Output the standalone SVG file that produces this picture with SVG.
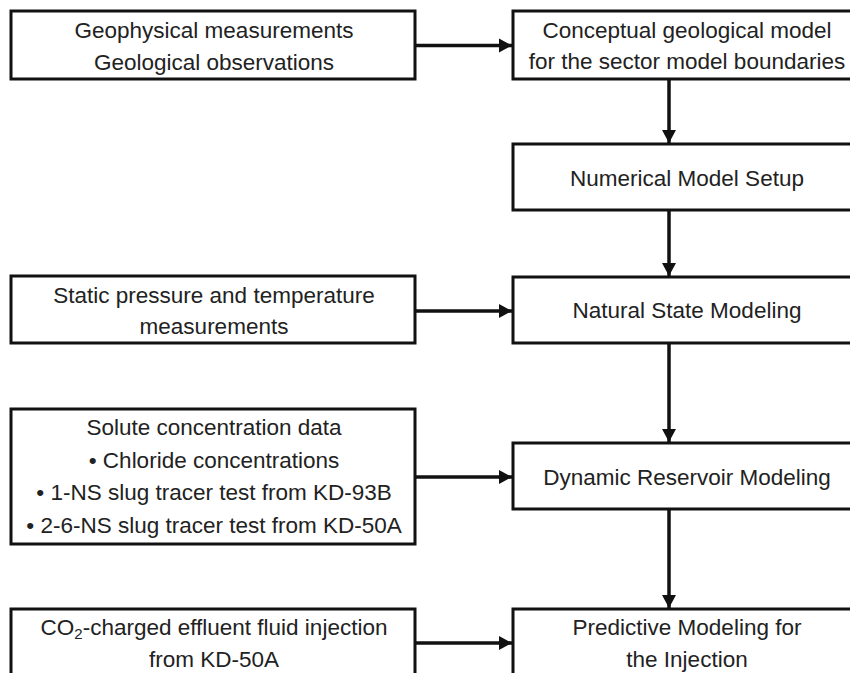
<svg xmlns="http://www.w3.org/2000/svg" width="850" height="673" viewBox="0 0 850 673">
<defs>
<style>
.box{fill:#fff;stroke:#111;stroke-width:3}
.t{font-family:"Liberation Sans",Arial,sans-serif;font-size:22.5px;fill:#222;text-anchor:middle}
.c{stroke:#111;stroke-width:3.5;fill:none}
</style>
<marker id="ah" markerUnits="userSpaceOnUse" markerWidth="14" markerHeight="15" viewBox="0 0 14 15" refX="13" refY="7.5" orient="auto">
<path d="M0,0.5 L13,7.5 L0,14.5 Z" fill="#111"/>
</marker>
</defs>
<rect width="850" height="673" fill="#fff"/>
<g id="geophys">
<rect class="box" x="11" y="11" width="404" height="68"/>
<text class="t" x="214" y="38">Geophysical measurements</text>
<text class="t" x="214" y="69.5">Geological observations</text>
</g>
<g id="conceptual">
<rect class="box" x="513" y="11" width="349" height="68"/>
<text class="t" x="687" y="38">Conceptual geological model</text>
<text class="t" x="687" y="68.5">for the sector model boundaries</text>
</g>
<g id="numerical">
<rect class="box" x="513" y="144" width="349" height="66"/>
<text class="t" x="687" y="186">Numerical Model Setup</text>
</g>
<g id="static">
<rect class="box" x="11" y="276" width="404" height="67"/>
<text class="t" x="214" y="303">Static pressure and temperature</text>
<text class="t" x="214" y="333.5">measurements</text>
</g>
<g id="natural">
<rect class="box" x="513" y="277" width="349" height="66"/>
<text class="t" x="687" y="318">Natural State Modeling</text>
</g>
<g id="solute">
<rect class="box" x="11" y="409" width="404" height="135"/>
<text class="t" x="214" y="435">Solute concentration data</text>
<text class="t" x="214" y="467.5">• Chloride concentrations</text>
<text class="t" x="214" y="500">• 1-NS slug tracer test from KD-93B</text>
<text class="t" x="214" y="532.5">• 2-6-NS slug tracer test from KD-50A</text>
</g>
<g id="dynamic">
<rect class="box" x="513" y="443" width="349" height="66"/>
<text class="t" x="687" y="485">Dynamic Reservoir Modeling</text>
</g>
<g id="co2">
<rect class="box" x="11" y="609" width="404" height="90"/>
<text class="t" x="214" y="635">CO<tspan font-size="15" dy="4">2</tspan><tspan dy="-4">-charged effluent fluid injection</tspan></text>
<text class="t" x="214" y="667">from KD-50A</text>
</g>
<g id="predictive">
<rect class="box" x="513" y="609" width="349" height="90"/>
<text class="t" x="687" y="635">Predictive Modeling for</text>
<text class="t" x="687" y="667">the Injection</text>
</g>
<g id="connectors">
<line class="c" x1="415" y1="45.5" x2="512" y2="45.5" marker-end="url(#ah)"/>
<line class="c" x1="669" y1="79" x2="669" y2="143" marker-end="url(#ah)"/>
<line class="c" x1="669" y1="210" x2="669" y2="276" marker-end="url(#ah)"/>
<line class="c" x1="415" y1="311" x2="512" y2="311" marker-end="url(#ah)"/>
<line class="c" x1="669" y1="343" x2="669" y2="442" marker-end="url(#ah)"/>
<line class="c" x1="415" y1="477" x2="512" y2="477" marker-end="url(#ah)"/>
<line class="c" x1="669" y1="509" x2="669" y2="608" marker-end="url(#ah)"/>
<line class="c" x1="415" y1="643" x2="512" y2="643" marker-end="url(#ah)"/>
</g>
</svg>
